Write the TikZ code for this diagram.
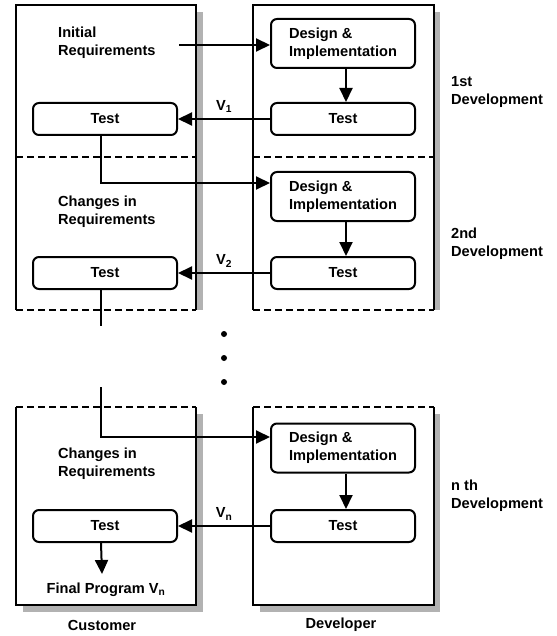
\documentclass[tikz,border=0pt]{standalone}
\usepackage{fontspec}
\setmainfont{Liberation Sans}
\usetikzlibrary{arrows.meta}
\newcommand{\lblfont}{\fontsize{14.6}{18}\selectfont\bfseries}
\begin{document}
\begin{tikzpicture}[x=1pt,y=-1pt,
  frame/.style={line width=2.4pt},
  dashfr/.style={line width=2.4pt, dash pattern=on 7pt off 4pt},
  shadowfill/.style={fill=black!30, draw=none},
  rbox/.style={draw, line width=2pt, rounded corners=6pt, minimum width=144pt, fill=white, inner sep=0pt, font=\lblfont, align=left},
  lbl/.style={font=\lblfont, align=left, inner sep=0pt},
  conn/.style={line width=2pt},
  arr/.style={line width=2pt, -{Triangle[length=14pt,width=13pt]}},
  dot/.style={circle, fill=black, inner sep=0pt, minimum size=6pt},
]
\useasboundingbox (0,0) rectangle (556,636);
% --- frames: top customer ---
\fill[shadowfill] (23,12) rectangle (203,310);
\fill[white] (16,5) rectangle (196,310);
\draw[frame] (16,310) -- (16,5) -- (196,5) -- (196,310);
\draw[dashfr] (16,157) -- (196,157);
\draw[dashfr] (16,310) -- (196,310);
% --- frames: top developer ---
\fill[shadowfill] (260,12) rectangle (440,310);
\fill[white] (253,5) rectangle (434,310);
\draw[frame] (253,310) -- (253,5) -- (434,5) -- (434,310);
\draw[dashfr] (253,157) -- (434,157);
\draw[dashfr] (253,310) -- (434,310);
% --- frames: bottom customer ---
\fill[shadowfill] (23,414) rectangle (203,612);
\fill[white] (16,407) rectangle (196,605);
\draw[frame] (16,407) -- (16,605) -- (196,605) -- (196,407);
\draw[dashfr] (16,407) -- (196,407);
% --- frames: bottom developer ---
\fill[shadowfill] (260,414) rectangle (440,612);
\fill[white] (253,407) rectangle (434,605);
\draw[frame] (253,407) -- (253,605) -- (434,605) -- (434,407);
\draw[dashfr] (253,407) -- (434,407);

% --- nodes ---
\node[lbl, anchor=west] (ir) at (58,43) {Initial\\Requirements};
\node[rbox, minimum height=49pt] (d1) at (343,43.5) {Design \&\\Implementation};
\node[rbox, minimum height=32pt] (dt1) at (343,119) {Test};
\node[rbox, minimum height=32pt, align=center] (ct1) at (105,119) {Test};
\node[lbl, anchor=west] at (451,92) (dev1) {1st\\Development};

\node[lbl, anchor=west] (cr2) at (58,212) {Changes in\\Requirements};
\node[rbox, minimum height=49pt] (d2) at (343,196.5) {Design \&\\Implementation};
\node[rbox, minimum height=32pt] (dt2) at (343,273) {Test};
\node[rbox, minimum height=32pt] (ct2) at (105,273) {Test};
\node[lbl, anchor=west] (dev2) at (451,243.5) {2nd\\Development};

\node[lbl, anchor=west] (crn) at (58,464) {Changes in\\Requirements};
\node[rbox, minimum height=49pt] (dn) at (343,448) {Design \&\\Implementation};
\node[rbox, minimum height=32pt] (dtn) at (343,526) {Test};
\node[rbox, minimum height=32pt] (ctn) at (105,526) {Test};
\node[lbl, anchor=west] (devn) at (451,496) {n th\\Development};
\node[lbl] (final) at (106,590) {Final Program V\textsubscript{n}};

\node[lbl] (cust) at (102,625) {Customer};
\node[lbl] (devl) at (341,625) {Developer};

\node[dot] (p1) at (224,334) {};
\node[dot] (p2) at (224,358) {};
\node[dot] (p3) at (224,382) {};

\coordinate (irs) at (179,45);
\coordinate (cns) at (101,387);

% --- connectors ---
\draw[arr] (irs) -- (d1.west |- irs);
\draw[arr] ([xshift=3pt]d1.south) -- ([xshift=3pt]dt1.north);
\draw[arr] (dt1.west) -- node[lbl, above=5pt] {V\textsubscript{1}} (ct1.east);
\draw[arr] ([xshift=-4pt]ct1.south) |- ([yshift=13.5pt]d2.west);

\draw[arr] ([xshift=3pt]d2.south) -- ([xshift=3pt]dt2.north);
\draw[arr] (dt2.west) -- node[lbl, above=5pt] {V\textsubscript{2}} (ct2.east);
\draw[conn] ([xshift=-4pt]ct2.south) -- ++(0,36);

\draw[arr] (cns) |- ([yshift=11pt]dn.west);
\draw[arr] ([xshift=3pt]dn.south) -- ([xshift=3pt]dtn.north);
\draw[arr] (dtn.west) -- node[lbl, above=5pt] {V\textsubscript{n}} (ctn.east);
\draw[arr] ([xshift=-4pt]ctn.south) -- ([xshift=-4pt]final.north |- 0,574);
\end{tikzpicture}
\end{document}
